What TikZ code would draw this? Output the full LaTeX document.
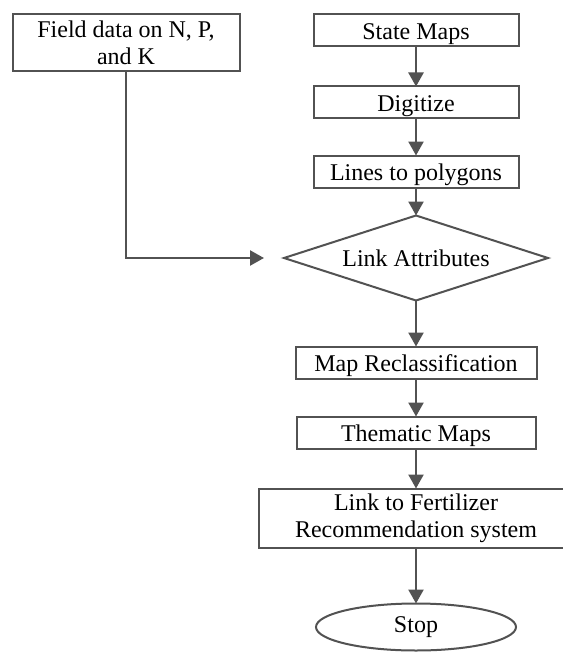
\documentclass[tikz,border=0pt]{standalone}
\usepackage{fontspec}
\setmainfont{Liberation Serif}
\usetikzlibrary{arrows.meta,positioning,shapes.geometric}
\tikzset{
  proc/.style={rectangle, draw=black!68, line width=2pt, fill=white, align=center, outer sep=0pt,
    inner sep=3pt, minimum height=32pt, font=\fontsize{24}{27}\selectfont},
  oneline/.style={proc, text height=21pt, text depth=3pt},
  decide/.style={proc, diamond, aspect=3.1, inner sep=0pt, minimum width=264pt, minimum height=85pt},
  stopnode/.style={proc, ellipse, minimum width=200pt, minimum height=47pt},
  flow/.style={-{Triangle[length=14pt, width=15pt]}, line width=2.4pt, draw=black!68},
}
\begin{document}
\begin{tikzpicture}[x=1pt, y=1pt, node distance=40pt]
  \useasboundingbox (0,0) rectangle (562,-658);
  \node[oneline, minimum width=205pt] (state) at (416,-30.5) {State Maps};
  \node[oneline, minimum width=205pt, below=40pt of state] (digit) {Digitize};
  \node[oneline, minimum width=205pt, below=37pt of digit] (lines) {Lines to polygons};
  \node[decide, below=28pt of lines] (attr) {Link Attributes};
  \node[oneline, minimum width=241pt, below=46pt of attr] (reclass) {Map Reclassification};
  \node[oneline, minimum width=239pt, below=38pt of reclass] (thematic) {Thematic Maps};
  \node[proc, minimum width=315pt, minimum height=59pt, below=40pt of thematic] (fert)
    {Link to Fertilizer\\Recommendation system};
  \node[stopnode, below=56pt of fert] (stop) {Stop};
  \node[proc, minimum width=227pt, minimum height=57pt, left=74pt of state.north west,
    anchor=north east] (field) {Field data on N, P,\\and K};
  \draw[flow] (state) -- (digit);
  \draw[flow] (digit) -- (lines);
  \draw[flow] (lines) -- (attr);
  \draw[flow] (attr) -- (reclass);
  \draw[flow] (reclass) -- (thematic);
  \draw[flow] (thematic) -- (fert);
  \draw[flow] (fert) -- (stop);
  \draw[flow] (field) |- ([xshift=-20pt]attr.west);
\end{tikzpicture}
\end{document}
